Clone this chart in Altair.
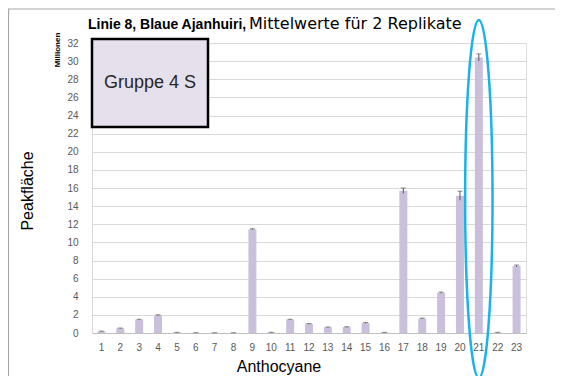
import altair as alt
import pandas as pd

# ---- data ----
categories = [str(i) for i in range(1, 24)]
values = [0.18, 0.52, 1.48, 1.96, 0.06, 0.02, 0.02, 0.02, 11.44, 0.06,
          1.48, 1.0, 0.63, 0.66, 1.1, 0.05, 15.7, 1.6, 4.45, 15.15,
          30.4, 0.05, 7.4]
errors = [0.03, 0.03, 0.04, 0.05, 0.02, 0.01, 0.01, 0.01, 0.06, 0.02,
          0.04, 0.04, 0.03, 0.03, 0.05, 0.02, 0.3, 0.05, 0.06, 0.5,
          0.4, 0.03, 0.1]
y_ticks = list(range(0, 33, 2))
highlight = ["21"]

title_bold = "Linie 8, Blaue Ajanhuiri,"
title_normal = "Mittelwerte für 2 Replikate"
box_label = "Gruppe 4 S"
y_title = "Peakfläche"
y_unit = "Millionen"
x_title = "Anthocyane"

FONT = "Liberation Sans"
W, H = 434, 290

df = pd.DataFrame({"cat": categories, "val": values, "err": errors})
df["lo"] = (df["val"] - df["err"]).clip(lower=0)
df["hi"] = df["val"] + df["err"]

xaxis = alt.Axis(title=None, labelAngle=0, ticks=False, labelPadding=9,
                 labelFont=FONT, labelFontSize=10, labelColor="#595959",
                 domainColor="#bfbfbf", grid=False)
yaxis = alt.Axis(title=None, values=y_ticks, ticks=False, labelPadding=14,
                 labelFont=FONT, labelFontSize=10, labelColor="#595959",
                 labelOverlap=False, domainColor="#d9d9d9",
                 gridColor="#d9d9d9", gridWidth=1)
xscale = alt.Scale(paddingInner=0, paddingOuter=0)
yscale = alt.Scale(domain=[0, 32], nice=False)

def X():
    return alt.X("cat:O", sort=categories, scale=xscale, axis=xaxis)

def Y(field):
    return alt.Y(field, scale=yscale, axis=yaxis)

base = alt.Chart(df)
bars = base.mark_bar(size=8, color="#cbc0dc").encode(x=X(), y=Y("val:Q"))
err_rule = base.mark_rule(color="#595959", strokeWidth=1).encode(
    x=X(), y=Y("lo:Q"), y2="hi:Q")
err_cap = base.mark_tick(color="#595959", size=5, thickness=1).encode(
    x=X(), y=Y("hi:Q"))

one = pd.DataFrame({"t": [""]})

def text(s, x, y, **kw):
    return alt.Chart(pd.DataFrame({"t": [s]})).mark_text(**kw).encode(
        x=alt.value(x), y=alt.value(y), text="t:N")

frame = alt.Chart(one).mark_rect(fill="white", fillOpacity=0, stroke="#a6a6a6",
                                 strokeWidth=1.2).encode(
    x=alt.value(-83.5), x2=alt.value(480), y=alt.value(-34), y2=alt.value(400))

box = alt.Chart(one).mark_rect(fill="#e6e0ec", stroke="black", strokeWidth=2.5).encode(
    x=alt.value(0), x2=alt.value(116), y=alt.value(-4), y2=alt.value(84))

a = 13.7 / 179
k = 0.5523
ell_path = (f"M 0 -1 C {k*a:.5f} -1 {a:.5f} {-k:.5f} {a:.5f} 0 "
            f"C {a:.5f} {k:.5f} {k*a:.5f} 1 0 1 "
            f"C {-k*a:.5f} 1 {-a:.5f} {k:.5f} {-a:.5f} 0 "
            f"C {-a:.5f} {-k:.5f} {-k*a:.5f} -1 0 -1 Z")
ellipse = alt.Chart(pd.DataFrame({"cat": highlight})).mark_point(
    shape=ell_path, filled=False, stroke="#1ab2ea", strokeWidth=2.5,
    size=(2 * 179) ** 2, opacity=1).encode(x=X(), y=alt.value(156))

t1 = text(title_bold, -4, -14, font=FONT, fontSize=14, fontWeight="bold",
          align="left", baseline="alphabetic", color="black")
t2 = text(title_normal, 157, -14, font="DejaVu Sans", fontSize=16, align="left",
          baseline="alphabetic", color="black")
t_box = text(box_label, 58, 40, font=FONT, fontSize=18, align="center",
             baseline="middle", color="#262626")
t_y = text(y_title, -64, 148, font=FONT, fontSize=16, angle=270, align="center",
           baseline="middle", color="black")
t_unit = text(y_unit, -34, 7, font=FONT, fontSize=8, fontWeight="bold", angle=270,
              align="center", baseline="middle", color="black")
t_x = text(x_title, 187, 329, font=FONT, fontSize=16, align="center",
           baseline="alphabetic", color="black")

chart = alt.layer(frame, bars, err_rule, err_cap, box, t_box, ellipse,
                  t1, t2, t_y, t_unit, t_x).properties(
    width=W, height=H,
    autosize=alt.AutoSizeParams(type="none"),
    padding={"left": 84, "top": 35, "right": 29, "bottom": 43},
).configure_view(stroke=None).configure(background="white")

chart.save("out.html", embed_options={"renderer": "svg", "actions": False})
